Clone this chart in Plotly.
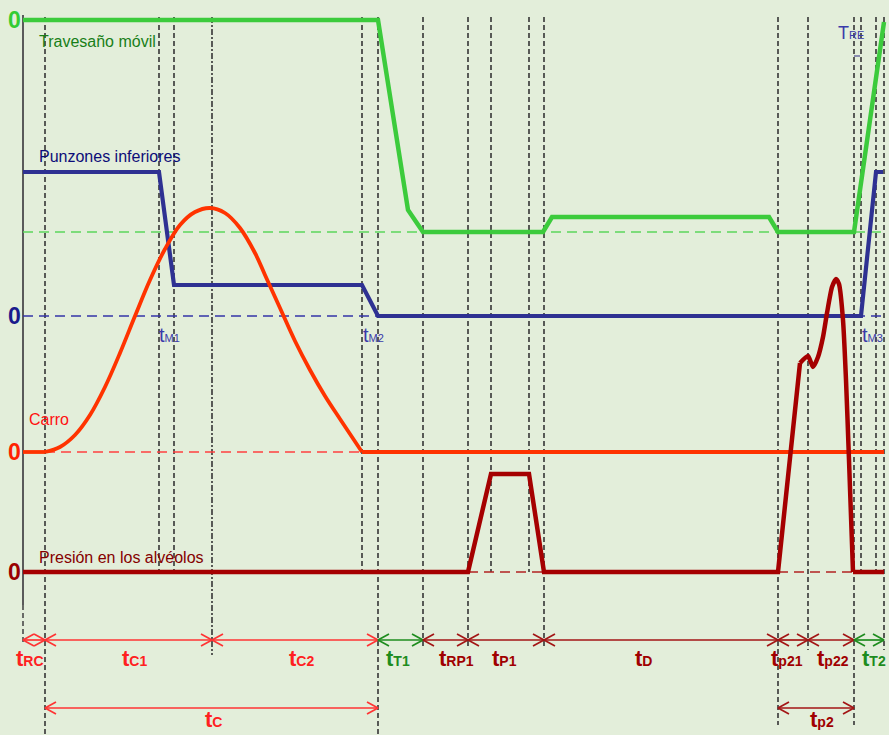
import plotly.graph_objects as go

# ---------------- data (time axis to the right, level axis downward) ----------------
# event instants marked by the vertical guide lines
mark_t = [45, 159, 174, 212, 362, 378, 423, 468, 491, 529, 544, 778, 808, 854, 861, 876, 884]
mark_end = [735, 572, 572, 655, 572, 735, 647, 647, 572, 572, 647, 725, 650, 725, 572, 572, 650]
mark_dashdot = [False, False, False, True, False, False, False, False, False, False, False,
                False, False, False, False, False, False]

# Travesaño móvil
trav_t = [23, 378, 408, 423, 543, 552, 769, 778, 854, 884]
trav_y = [20, 20, 210, 232, 232, 217, 217, 232, 232, 22]

# Punzones inferiores
punz_t = [23, 159, 174, 362, 378, 861, 876, 883]
punz_y = [172, 172, 285, 285, 316, 316, 172, 172]

# Carro (bell between t=45 and t=362)
carro_bell_t = [45, 60, 75, 90, 105, 120, 135, 150, 165, 180, 195, 210,
                225, 240, 255, 265, 280, 295, 310, 325, 340, 352, 362]
carro_bell_y = [452, 447, 435, 415, 387, 353, 316, 280, 249, 225, 212, 208,
                213, 228, 253, 275, 308, 341, 370, 396, 419, 437, 452]
carro_flat_t = [[23, 45], [362, 884]]
carro_zero = 452

# Presión en los alvéolos
pres_lin_t = [23, 468, 491, 529, 544, 778, 800]
pres_lin_y = [572, 572, 474, 474, 572, 572, 363]
pres_peak_t = [800, 808, 813, 818, 823, 827, 832, 836, 839, 843, 846, 849, 853]
pres_peak_y = [363, 356, 367, 357, 337, 313, 287, 279, 284, 320, 380, 460, 572]
pres_tail_t = [853, 884]
pres_zero = 572

# zero levels of each signal
zero_levels = [20, 316, 452, 572]
green_ref = 232

# duration arrows
arr_start = [23, 45, 212, 378, 423, 468, 544, 778, 808, 854, 45, 778]
arr_end = [45, 212, 378, 423, 468, 544, 778, 808, 854, 884, 378, 854]
arr_row = [0, 0, 0, 0, 0, 0, 0, 0, 0, 0, 1, 1]
arr_main = ["t"] * 12
arr_sub = ["RC", "C1", "C2", "T1", "RP1", "P1", "D", "p21", "p22", "T2", "C", "p2"]
arr_kind = ["r", "r", "r", "g", "d", "d", "d", "d", "d", "g", "r", "d"]
arr_label_t = [30, 134, 301, 398, 456, 504, 643, 787, 833, 874, 213, 822]

# ---------------- styling ----------------
BG = "#E3EEDA"
FONT = "Liberation Sans, Arial, sans-serif"
C_GREEN = "#3CCB3C"
C_BLUE = "#2E3192"
C_RED = "#FF3300"
C_DRED = "#A50000"
arrow_col = {"r": "#FF3333", "g": "#1E8C1E", "d": "#A31515"}
label_col = {"r": "#FF2020", "g": "#1E8C1E", "d": "#A00000"}
row_y = [640, 708]
row_label_y = [658, 719]

fig = go.Figure()

def line(x, y, color, width, shape="linear", smoothing=1.0):
    fig.add_trace(go.Scatter(x=x, y=y, mode="lines", hoverinfo="skip",
                             line=dict(color=color, width=width, shape=shape,
                                       smoothing=smoothing),
                             showlegend=False))

# signals
line(trav_t, trav_y, C_GREEN, 4.5)
line(punz_t, punz_y, C_BLUE, 4.2)
for seg in carro_flat_t:
    line(seg, [carro_zero] * len(seg), C_RED, 3.8)
line(carro_bell_t, carro_bell_y, C_RED, 3.8, "spline", 1.0)
line(pres_lin_t, pres_lin_y, C_DRED, 4.5)
line(pres_peak_t, pres_peak_y, C_DRED, 4.5, "spline", 0.6)
line(pres_tail_t, [pres_zero] * 2, C_DRED, 4.5)

# arrows drawn as line + open chevrons
for s, e, r, k in zip(arr_start, arr_end, arr_row, arr_kind):
    y = row_y[r]
    d = min(11, (e - s) / 2)
    h = 6
    xs = [s, e, None, s + d, s, s + d, None, e - d, e, e - d]
    ys = [y, y, None, y - h, y, y + h, None, y - h, y, y + h]
    line(xs, ys, arrow_col[k], 1.7)

shapes = []
# vertical axis
shapes.append(dict(type="line", xref="x", yref="y", x0=23, x1=23, y0=15, y1=605,
                   line=dict(color="#5a5a5a", width=2), layer="below"))
shapes.append(dict(type="line", xref="x", yref="y", x0=23, x1=23, y0=605, y1=645,
                   line=dict(color="#4a4a4a", width=1.6, dash="5px,3px"), layer="below"))
# vertical event guides
for t, yb, dd in zip(mark_t, mark_end, mark_dashdot):
    shapes.append(dict(type="line", xref="x", yref="y", x0=t, x1=t, y0=17, y1=yb,
                       line=dict(color="#353535", width=1.6,
                                 dash="6px,2px,2px,2px" if dd else "5px,3px"),
                       layer="below"))
# horizontal reference dashes
shapes.append(dict(type="line", xref="x", yref="y", x0=23, x1=884, y0=green_ref, y1=green_ref,
                   line=dict(color="#5CD65C", width=1.5, dash="10px,6px"), layer="below"))
shapes.append(dict(type="line", xref="x", yref="y", x0=23, x1=884, y0=zero_levels[1], y1=zero_levels[1],
                   line=dict(color="#3535A8", width=1.5, dash="10px,6px"), layer="below"))
shapes.append(dict(type="line", xref="x", yref="y", x0=45, x1=362, y0=carro_zero, y1=carro_zero,
                   line=dict(color="#FF4040", width=1.5, dash="10px,6px"), layer="below"))
for a, b in [(468, 544), (778, 853)]:
    shapes.append(dict(type="line", xref="x", yref="y", x0=a, x1=b, y0=pres_zero, y1=pres_zero,
                       line=dict(color="#B22222", width=1.5, dash="10px,6px"), layer="below"))
# small tick under T_RE
shapes.append(dict(type="line", xref="x", yref="y", x0=854, x1=860, y0=56, y1=56,
                   line=dict(color="#6a6aa0", width=1.5)))

annotations = []

def text(x, y, s, color, size, xanchor="center", bold=False):
    if bold:
        s = "<b>" + s + "</b>"
    annotations.append(dict(x=x, y=y, xref="x", yref="y", text=s, showarrow=False,
                            xanchor=xanchor, yanchor="middle",
                            font=dict(family=FONT, size=size, color=color)))

# zero labels
for zy, col in zip(zero_levels, ["#33CC33", "#1A1A8C", "#FF2200", "#990000"]):
    text(14, zy, "0", col, 23, bold=True)

# signal names
text(37, 41, "Travesaño móvil", "#187F18", 16, xanchor="left")
text(37, 156, "Punzones inferiores", "#0C0C78", 16, xanchor="left")
text(27, 419, "Carro", "#FF1010", 16, xanchor="left")
text(37, 557, "Presión en los alvéolos", "#850000", 16, xanchor="left")

# instant labels
def sub(main, s, small):
    return main + "<span style='font-size:%dpx'>%s</span>" % (small, s)

for x, s in [(169, "M1"), (373, "M2"), (872, "M3")]:
    text(x, 335, sub("t", s, 11), "#3A3AAA", 20)
text(851, 33, sub("T", "RE", 11), "#3A3AAA", 18)

# duration labels
for lx, r, m, s, k in zip(arr_label_t, arr_row, arr_main, arr_sub, arr_kind):
    text(lx, row_label_y[r], sub(m, s, 14), label_col[k], 22, bold=True)

fig.update_layout(
    width=889, height=735,
    margin=dict(l=0, r=0, t=0, b=0),
    paper_bgcolor=BG, plot_bgcolor=BG,
    xaxis=dict(range=[0, 889], visible=False, fixedrange=True),
    yaxis=dict(range=[735, 0], visible=False, fixedrange=True),
    shapes=shapes, annotations=annotations,
    showlegend=False,
)

fig.write_html("out.html",
               config={"displayModeBar": False},
               post_script="document.body.style.margin='0';"
                           "document.body.style.overflow='hidden';"
                           "document.body.style.background='" + BG + "';")
